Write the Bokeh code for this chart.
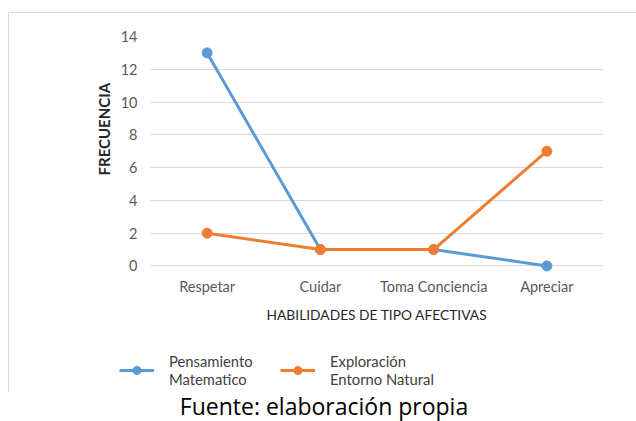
from bokeh.plotting import figure
from bokeh.models import Range1d, Legend, LegendItem, FactorRange, Title, Div
from bokeh.layouts import column
from bokeh.embed import file_html
from bokeh.resources import INLINE

categories = ["Respetar", "Cuidar", "Toma Conciencia", "Apreciar"]
pensamiento = [13, 1, 1, 0]
exploracion = [2, 1, 1, 7]
y_ticks = [0, 2, 4, 6, 8, 10, 12, 14]
series_names = ["Pensamiento\nMatematico", "Exploración\nEntorno Natural"]
x_title = "HABILIDADES DE TIPO AFECTIVAS"
y_title = "FRECUENCIA"
caption = "Fuente: elaboración propia"

BLUE = "#5B9BD5"
ORANGE = "#ED7D31"
FONT = "Lato"
BORDER = "1px solid #D9D9D9"

# ---- main chart ----
p = figure(width=627, height=317,
           x_range=FactorRange(*categories), y_range=Range1d(-0.4, 14),
           output_backend="svg", toolbar_location=None,
           min_border_left=141, min_border_right=33,
           min_border_top=23, min_border_bottom=58)
p.outline_line_color = None
p.background_fill_color = "white"
p.border_fill_color = "white"
p.xgrid.grid_line_color = None
p.ygrid.grid_line_color = "#D9D9D9"
p.ygrid.grid_line_width = 1

p.yaxis.ticker = y_ticks
for ax in (p.xaxis[0], p.yaxis[0]):
    ax.axis_line_color = None
    ax.major_tick_line_color = None
    ax.minor_tick_line_color = None
    ax.major_tick_out = 0
    ax.minor_tick_out = 0
    ax.major_label_text_font = FONT
    ax.major_label_text_font_size = "14.5px"
    ax.major_label_text_color = "#595959"
p.yaxis.major_label_standoff = 13
p.xaxis.major_label_standoff = 5
p.xaxis.axis_label = x_title
p.xaxis.axis_label_text_font = FONT
p.xaxis.axis_label_text_font_style = "normal"
p.xaxis.axis_label_text_font_size = "13.8px"
p.xaxis.axis_label_text_color = "#262626"
p.xaxis.axis_label_standoff = 8

p.line(categories, pensamiento, line_color=BLUE, line_width=3)
p.scatter(categories, pensamiento, size=10, fill_color=BLUE, line_color=BLUE)
p.line(categories, exploracion, line_color=ORANGE, line_width=3)
p.scatter(categories, exploracion, size=10, fill_color=ORANGE, line_color=ORANGE)

p.add_layout(Title(text=y_title, align="left", offset=97,
                   text_font=FONT, text_font_style="bold",
                   text_font_size="15px", text_color="#262626"), "left")

# ---- legend strip (inside the bordered box), transparent so the border shows ----
lg = figure(width=627, height=62,
            x_range=FactorRange(*categories), y_range=Range1d(0, 14),
            output_backend="svg", toolbar_location=None,
            min_border=0, margin=(0, 0, 0, -31))
lg.axis.visible = False
lg.grid.visible = False
lg.outline_line_color = None
lg.background_fill_alpha = 0
lg.border_fill_alpha = 0

# same series, hidden here: they only feed the legend glyphs
l1 = lg.line(categories, pensamiento, line_color=BLUE, line_width=3, visible=False)
m1 = lg.scatter(categories, pensamiento, size=10, fill_color=BLUE, line_color=BLUE, visible=False)
l2 = lg.line(categories, exploracion, line_color=ORANGE, line_width=3, visible=False)
m2 = lg.scatter(categories, exploracion, size=10, fill_color=ORANGE, line_color=ORANGE, visible=False)

legend = Legend(items=[LegendItem(label=series_names[0], renderers=[l1, m1]),
                       LegendItem(label=series_names[1], renderers=[l2, m2])],
                orientation="horizontal", location=(0, 4),
                glyph_width=35, glyph_height=20, label_standoff=15,
                label_width=84, spacing=27, padding=0, margin=0,
                border_line_color=None, background_fill_alpha=0,
                inactive_fill_alpha=0,
                label_text_font=FONT, label_text_font_size="14.8px",
                label_text_color="#404040")
lg.add_layout(legend, "center")

box = column(p, lg, spacing=0, margin=(12, 0, 0, 8),
             styles={"border-left": BORDER, "border-top": BORDER})

# ---- source caption ----
cap = Div(text=caption, width=624, height=28, margin=(0, 0, 0, 12),
          styles={"font-family": "Open Sans", "font-size": "23px",
                  "line-height": "28px", "color": "#000000",
                  "text-align": "center", "white-space": "nowrap"})

layout = column(box, cap, spacing=0)
open("out.html", "w").write(file_html(layout, INLINE))
